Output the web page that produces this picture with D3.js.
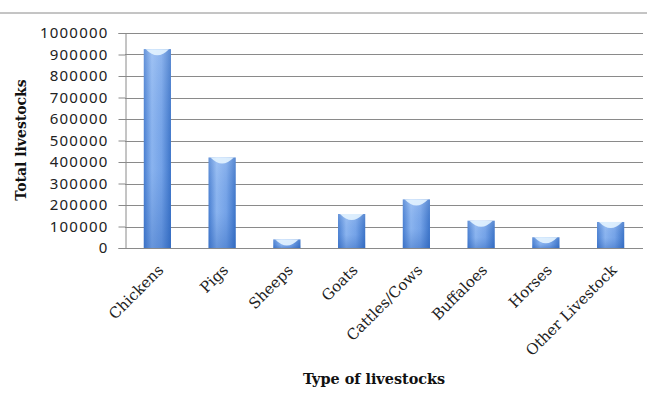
<!DOCTYPE html>
<html>
<head>
<script src="https://cdnjs.cloudflare.com/ajax/libs/d3/7.8.5/d3.min.js"></script>
<style>
  body { margin: 0; background: #fff; }
  svg { display: block; }
</style>
</head>
<body>
<div id="chart"></div>
<script>
// data
const categories = ["Chickens", "Pigs", "Sheeps", "Goats", "Cattles/Cows", "Buffaloes", "Horses", "Other Livestock"];
const totals = [925000, 421000, 40000, 158000, 226000, 127000, 50000, 121000];
const yTicks = [0, 100000, 200000, 300000, 400000, 500000, 600000, 700000, 800000, 900000, 1000000];

const width = 647, height = 398;
const margin = {left: 125, right: 4, top: 33, bottom: 150};

const svg = d3.select("#chart").append("svg")
    .attr("width", width)
    .attr("height", height);

const defs = svg.append("defs");
const hg = defs.append("linearGradient").attr("id", "barH").attr("x1", 0).attr("x2", 1).attr("y1", 0).attr("y2", 0);
hg.append("stop").attr("offset", "0%").attr("stop-color", "#4a80d2");
hg.append("stop").attr("offset", "30%").attr("stop-color", "#8fb8f2");
hg.append("stop").attr("offset", "65%").attr("stop-color", "#78a6ea");
hg.append("stop").attr("offset", "100%").attr("stop-color", "#3d75c9");
const vg = defs.append("linearGradient").attr("id", "barV").attr("x1", 0).attr("x2", 0).attr("y1", 0).attr("y2", 1);
vg.append("stop").attr("offset", "0%").attr("stop-color", "#ffffff").attr("stop-opacity", 0.15);
vg.append("stop").attr("offset", "60%").attr("stop-color", "#2a60b8").attr("stop-opacity", 0.05);
vg.append("stop").attr("offset", "100%").attr("stop-color", "#1d55b0").attr("stop-opacity", 0.35);

const x = d3.scaleBand()
    .domain(categories)
    .range([margin.left, width - margin.right])
    .paddingInner(0.58)
    .paddingOuter(0.29);

const y = d3.scaleLinear()
    .domain([0, 1000000])
    .range([height - margin.bottom, margin.top]);

// top rule across the page
svg.append("line")
    .attr("x1", 0).attr("x2", width)
    .attr("y1", 13).attr("y2", 13)
    .attr("stroke", "#8a8a8a");

// gridlines
svg.append("g")
    .selectAll("line")
    .data(yTicks)
    .join("line")
    .attr("x1", margin.left).attr("x2", width - margin.right)
    .attr("y1", d => Math.round(y(d)) + 0.5).attr("y2", d => Math.round(y(d)) + 0.5)
    .attr("stroke", "#8a8a8a");

// y axis
const yAxis = svg.append("g")
    .attr("transform", `translate(${margin.left + 0.5},0)`)
    .call(d3.axisLeft(y).tickValues(yTicks).tickFormat(d3.format("d")).tickSize(7).tickPadding(10));
yAxis.select(".domain").attr("stroke", "#8a8a8a");
yAxis.selectAll(".tick line").attr("stroke", "#8a8a8a");
yAxis.selectAll(".tick text")
    .attr("font-family", "'Noto Sans', sans-serif")
    .attr("font-size", 15)
    .attr("letter-spacing", "1.2px")
    .attr("fill", "#222");

// bars
const bars = svg.append("g").selectAll("g")
    .data(categories.map((c, i) => ({c, v: totals[i]})))
    .join("g");
bars.append("rect")
    .attr("x", d => x(d.c))
    .attr("y", d => y(d.v))
    .attr("width", x.bandwidth())
    .attr("height", d => y(0) - y(d.v))
    .attr("fill", "url(#barH)");
bars.append("rect")
    .attr("x", d => x(d.c))
    .attr("y", d => y(d.v))
    .attr("width", x.bandwidth())
    .attr("height", d => y(0) - y(d.v))
    .attr("fill", "url(#barV)");
// light cap at the top of each bar
bars.append("path")
    .attr("d", d => {
        const x0 = x(d.c), w = x.bandwidth(), t = y(d.v);
        return `M${x0 + 2},${t} L${x0 + w - 2},${t} Q${x0 + w / 2},${t + 12} ${x0 + 2},${t} Z`;
    })
    .attr("fill", "#e4f4ff")
    .attr("opacity", 0.9);

// x labels
svg.append("g").selectAll("text")
    .data(categories)
    .join("text")
    .attr("transform", d => `translate(${x(d) + x.bandwidth() / 2 + 7},${y(0) + 23}) rotate(-45)`)
    .attr("text-anchor", "end")
    .attr("font-family", "'DejaVu Serif', serif")
    .attr("font-size", 15)
    .attr("fill", "#222")
    .text(d => d);

// axis titles
svg.append("text")
    .attr("x", 374)
    .attr("y", 384)
    .attr("text-anchor", "middle")
    .attr("font-family", "'DejaVu Serif', serif")
    .attr("font-weight", "bold")
    .attr("font-size", 14.4)
    .attr("fill", "#111")
    .text("Type of livestocks");

svg.append("text")
    .attr("transform", "translate(26,140) rotate(-90)")
    .attr("text-anchor", "middle")
    .attr("font-family", "'DejaVu Serif', serif")
    .attr("font-weight", "bold")
    .attr("font-size", 14)
    .attr("fill", "#111")
    .text("Total livestocks");
</script>
</body>
</html>
